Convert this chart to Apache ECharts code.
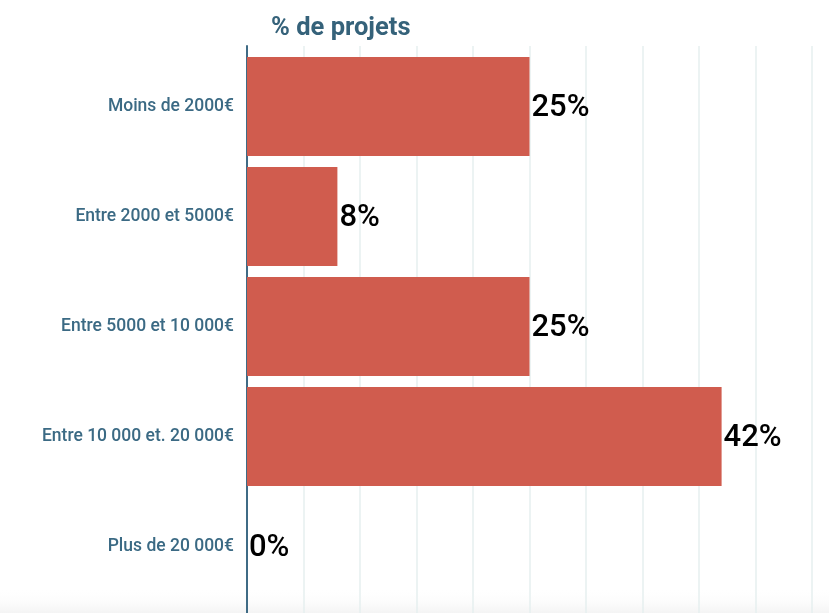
<!DOCTYPE html>
<html>
<head>
<meta charset="utf-8">
<script src="https://cdn.jsdelivr.net/npm/echarts@6/dist/echarts.min.js"></script>
<style>
html,body{margin:0;padding:0;background:#fff;}
#c{width:829px;height:613px;}
</style>
</head>
<body>
<div id="c"></div>
<script>
const categories = ["Moins de 2000€", "Entre 2000 et 5000€", "Entre 5000 et 10 000€", "Entre 10 000 et. 20 000€", "Plus de 20 000€"];
const values = [25, 8, 25, 42, 0];
const titleText = "% de projets";

const chart = echarts.init(document.getElementById('c'), null, {renderer: 'canvas'});
const font = 'Roboto, "Noto Sans", sans-serif';
chart.setOption({
  animation: false,
  backgroundColor: '#ffffff',
  textStyle: {fontFamily: font},
  title: {
    text: titleText,
    left: 271, top: 16, padding: 0,
    textStyle: {fontFamily: font, fontSize: 25.5, fontWeight: 'bold', color: '#35627a'}
  },
  graphic: [{
    type: 'rect', z: -100, silent: true,
    shape: {x: 0, y: 588, width: 829, height: 25},
    style: {fill: new echarts.graphic.LinearGradient(0, 0, 0, 1, [
      {offset: 0, color: 'rgba(255,255,255,0)'}, {offset: 1, color: '#f4f4f4'}])}
  }],
  grid: [
    {left: 247, right: 17, top: 51.5, bottom: 11.5, containLabel: false},
    {left: 247, right: 17, top: 46, bottom: 0, containLabel: false}
  ],
  xAxis: [
    {gridIndex: 0, type: 'value', min: 0, max: 50, interval: 5,
     axisLine: {show: false}, axisTick: {show: false}, axisLabel: {show: false}, splitLine: {show: false}},
    {gridIndex: 1, type: 'value', min: 0, max: 50, interval: 5,
     axisLine: {show: false}, axisTick: {show: false}, axisLabel: {show: false},
     splitLine: {show: true, lineStyle: {color: '#e6efef', width: 1.5}}}
  ],
  yAxis: [
    {gridIndex: 0, type: 'category', data: categories, inverse: true,
     axisLine: {show: false}, axisTick: {show: false},
     axisLabel: {margin: 13, color: '#3b6a84', fontSize: 17.5, fontWeight: 500, fontFamily: font}},
    {gridIndex: 1, type: 'category', data: categories, inverse: true,
     axisLine: {show: true, lineStyle: {color: '#3f6b85', width: 2}},
     axisTick: {show: false}, axisLabel: {show: false}, splitLine: {show: false}}
  ],
  series: [{
    type: 'bar', xAxisIndex: 0, yAxisIndex: 0, data: values,
    barCategoryGap: '10%',
    itemStyle: {color: '#d05c4e'},
    label: {show: true, position: 'right', distance: 2, formatter: '{c}%',
      color: '#000', fontSize: 31, fontWeight: 500, fontFamily: font, offset: [0, 2]}
  }]
});
</script>
</body>
</html>
